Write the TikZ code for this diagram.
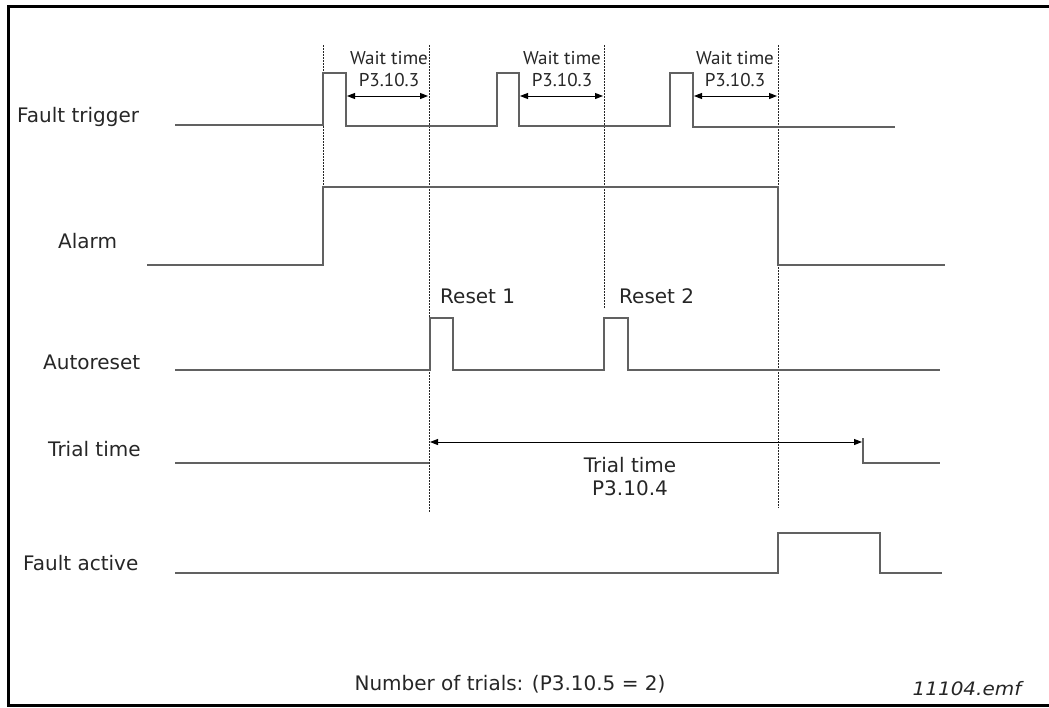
\documentclass[tikz,border=0pt]{standalone}
\usepackage{fontspec}
\setmainfont{DejaVu Sans}
\newfontfamily\labelfont{DejaVu Sans}
\newfontfamily\waitfont[FakeStretch=1.03]{PT Sans}
\newfontfamily\emffont[FakeStretch=1.08]{DejaVu Sans}
\usetikzlibrary{arrows.meta}
\begin{document}
\begin{tikzpicture}[x=1pt,y=-1pt,
  sig/.style={draw=black!62, line width=1.5pt, line join=miter},
  guide/.style={draw=black!85, line width=0.9pt, dash pattern=on 1.5pt off 1.5pt},
  dimarrow/.style={draw=black, line width=1pt, {Triangle[length=8pt,width=6pt]}-{Triangle[length=8pt,width=6pt]}},
  lbl/.style={font=\labelfont\fontsize{20}{23}\selectfont, text=black!85, inner sep=0pt, anchor=base west},
  wt/.style={font=\waitfont\fontsize{18.5}{22}\selectfont, text=black!85, align=center, inner sep=0pt, anchor=north},
  frameline/.style={line width=3pt}]
\useasboundingbox (0,0) rectangle (1049,707);
% frame
\draw[frameline] (1049,6) -- (8,6) -- (8,705) -- (1049,705);

% guide lines
\coordinate (g1t) at (323,45); \coordinate (g1b) at (323,265);
\coordinate (g2t) at (429,45); \coordinate (g2b) at (429,512);
\coordinate (g3t) at (604,45); \coordinate (g3b) at (604,308);
\coordinate (g4t) at (778,45); \coordinate (g4b) at (778,508);
\draw[guide] (g1t) -- (g1b);
\draw[guide] (g2t) -- (g2b);
\draw[guide] (g3t) -- (g3b);
\draw[guide] (g4t) -- (g4b);

% row labels
\node[lbl] (lft) at (17,122) {Fault trigger};
\node[lbl] (lal) at (58,248) {Alarm};
\node[lbl] (lar) at (43,369) {Autoreset};
\node[lbl] (ltt) at (48,456) {Trial time};
\node[lbl] (lfa) at (23,570) {Fault active};

% fault trigger
\draw[sig] (175,125) -- (323,125) -- (323,73) -- (346,73) -- (346,126) -- (497,126) -- (497,73) -- (519,73) -- (519,126) -- (670,126) -- (670,73) -- (693,73) -- (693,127) -- (895,127);

% wait time
\coordinate (w1a) at (347,96); \coordinate (w1b) at (428,96);
\coordinate (w2a) at (520,96); \coordinate (w2b) at (603,96);
\coordinate (w3a) at (694,96); \coordinate (w3b) at (777,96);
\draw[dimarrow] (w1a) -- (w1b);
\draw[dimarrow] (w2a) -- (w2b);
\draw[dimarrow] (w3a) -- (w3b);
\node[wt] (wt1) at (389,51) {Wait time\\P3.10.3};
\node[wt] (wt2) at (562,51) {Wait time\\P3.10.3};
\node[wt] (wt3) at (735,51) {Wait time\\P3.10.3};

% alarm
\draw[sig] (147,265) -- (323,265) -- (323,187) -- (778,187) -- (778,265) -- (945,265);

% autoreset
\draw[sig] (175,370) -- (430,370) -- (430,318) -- (453,318) -- (453,370) -- (604,370) -- (604,318) -- (628,318) -- (628,370) -- (940,370);
\node[lbl] (r1) at (440,303) {Reset 1};
\node[lbl] (r2) at (619,303) {Reset 2};

% trial time
\draw[sig] (175,463) -- (429,463);
\draw[sig] (863,438) -- (863,463) -- (940,463);
\coordinate (ta) at (430,442); \coordinate (tb) at (862,442);
\draw[dimarrow] (ta) -- (tb);
\node[lbl, anchor=north, align=center] (ttl) at (630,457) {Trial time\\P3.10.4};

% fault active
\draw[sig] (175,573) -- (778,573) -- (778,533) -- (880,533) -- (880,573) -- (942,573);

% bottom texts
\node[lbl, anchor=base] (nt) at (510,690) {Number of trials: (P3.10.5 = 2)};
\node[font=\emffont\itshape\fontsize{18.5}{20}\selectfont, text=black!85, inner sep=0pt, anchor=base] (emf) at (967,695) {11104.emf};
\end{tikzpicture}
\end{document}
